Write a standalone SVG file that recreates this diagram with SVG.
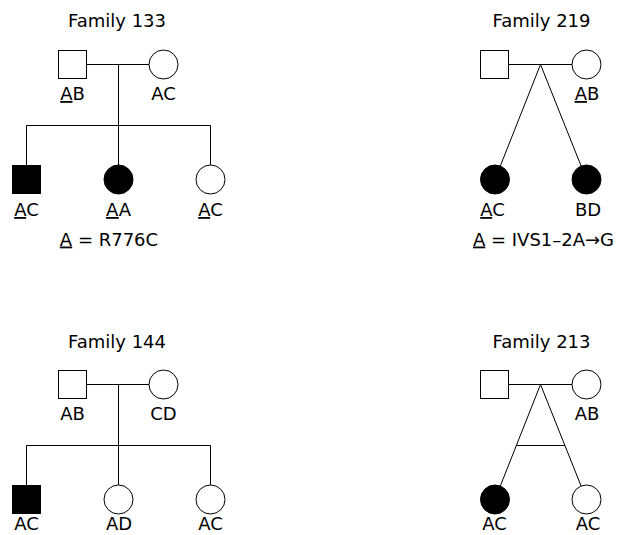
<svg xmlns="http://www.w3.org/2000/svg" width="621" height="535" viewBox="0 0 621 535">
<style>
text{font-family:"DejaVu Sans","Liberation Sans",sans-serif;font-size:18px;fill:#000;text-anchor:middle}
.u{text-decoration:underline}
.ln{stroke:#000;stroke-width:1;fill:none}
.open{fill:#fff;stroke:#000;stroke-width:1}
.aff{fill:#000;stroke:#000;stroke-width:1}
</style>
<rect width="621" height="535" fill="#fff"/>
<g id="connectors">
<!-- Family 133 -->
<path class="ln" d="M86.5 64.5H149M118.5 64.5V125.5M26.5 125.5H210.5M26.5 125.5V165.5M118.5 125.5V165M210.5 125.5V165"/>
<!-- Family 219 -->
<path class="ln" d="M508.5 64.5H572M540.5 64.5L500.3 166M540.5 64.5L581.1 166"/>
<!-- Family 144 -->
<path class="ln" d="M86.5 384.5H149M118.5 384.5V445.5M26.5 445.5H210.5M26.5 445.5V485.5M118.5 445.5V485M210.5 445.5V485"/>
<!-- Family 213 -->
<path class="ln" d="M508.5 384.5H572M540.5 384.5L500.3 486M540.5 384.5L581.1 486M516.3 445.5H564.9"/>
</g>
<g id="family133">
<text x="117" y="27">Family 133</text>
<g id="f133-father"><rect class="open" x="58.5" y="50.5" width="28" height="28"/><text x="72.5" y="100"><tspan class="u">A</tspan>B</text></g>
<g id="f133-mother"><circle class="open" cx="163.5" cy="64.5" r="14.5"/><text x="163.5" y="100">AC</text></g>
<g id="f133-son"><rect class="aff" x="12.5" y="165.5" width="28" height="28"/><text x="26.5" y="216"><tspan class="u">A</tspan>C</text></g>
<g id="f133-daughter1"><circle class="aff" cx="118.5" cy="179.5" r="14.5"/><text x="118.5" y="216"><tspan class="u">A</tspan>A</text></g>
<g id="f133-daughter2"><circle class="open" cx="210.5" cy="179.5" r="14.5"/><text x="210.5" y="216"><tspan class="u">A</tspan>C</text></g>
<text x="109" y="245.5"><tspan class="u">A</tspan> = R776C</text>
</g>
<g id="family219">
<text x="541.5" y="27">Family 219</text>
<g id="f219-father"><rect class="open" x="480.5" y="50.5" width="28" height="28"/></g>
<g id="f219-mother"><circle class="open" cx="586.5" cy="64.5" r="14.5"/><text x="587" y="100"><tspan class="u">A</tspan>B</text></g>
<g id="f219-twin1"><circle class="aff" cx="495" cy="179.5" r="14.5"/><text x="492.5" y="216"><tspan class="u">A</tspan>C</text></g>
<g id="f219-twin2"><circle class="aff" cx="586.5" cy="179.5" r="14.5"/><text x="588" y="216">BD</text></g>
<text x="543.5" y="245.5"><tspan class="u">A</tspan> = IVS1–2A→G</text>
</g>
<g id="family144">
<text x="117" y="348">Family 144</text>
<g id="f144-father"><rect class="open" x="58.5" y="370.5" width="28" height="28"/><text x="72.5" y="420">AB</text></g>
<g id="f144-mother"><circle class="open" cx="163.5" cy="384.5" r="14.5"/><text x="163.5" y="420">CD</text></g>
<g id="f144-son"><rect class="aff" x="12.5" y="485.5" width="28" height="28"/><text x="26.5" y="530">AC</text></g>
<g id="f144-daughter1"><circle class="open" cx="118.5" cy="499.5" r="14.5"/><text x="119" y="530">AD</text></g>
<g id="f144-daughter2"><circle class="open" cx="210.5" cy="499.5" r="14.5"/><text x="210.5" y="530">AC</text></g>
</g>
<g id="family213">
<text x="541.5" y="348">Family 213</text>
<g id="f213-father"><rect class="open" x="480.5" y="370.5" width="28" height="28"/></g>
<g id="f213-mother"><circle class="open" cx="586.5" cy="384.5" r="14.5"/><text x="587" y="420">AB</text></g>
<g id="f213-twin1"><circle class="aff" cx="495" cy="499.5" r="14.5"/><text x="494.5" y="530">AC</text></g>
<g id="f213-twin2"><circle class="open" cx="586.5" cy="499.5" r="14.5"/><text x="588" y="530">AC</text></g>
</g>
</svg>
